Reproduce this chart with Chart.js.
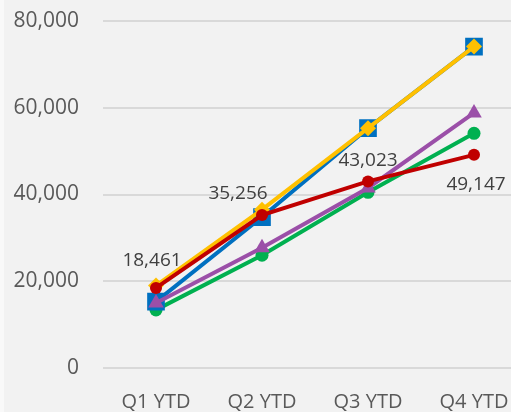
<!DOCTYPE html>
<html>
<head>
<meta charset="utf-8">
<script src="https://cdn.jsdelivr.net/npm/chart.js@4/dist/chart.umd.min.js"></script>
<style>
  html, body { margin: 0; padding: 0; overflow: hidden; background: #f2f2f2; }
  body { width: 511px; height: 412px; position: relative; }
  #edge { position: absolute; left: 0; top: 0; width: 4px; height: 412px; background: #f9f9f9; }
  #wrap { position: absolute; left: 0; top: 0; width: 530px; height: 412px; }
</style>
</head>
<body>
<div id="wrap"><canvas id="c"></canvas></div>
<div id="edge"></div>
<script>
const categories = ['Q1 YTD', 'Q2 YTD', 'Q3 YTD', 'Q4 YTD'];
const yTicks = [0, 20000, 40000, 60000, 80000];

const seriesBlue   = [15300, 34800, 55300, 74100];
const seriesYellow = [19000, 36500, 55300, 74100];
const seriesPurple = [15000, 27700, 41500, 58800];
const seriesGreen  = [13400, 26000, 40500, 54100];
const seriesRed    = [18461, 35256, 43023, 49147];

// label offsets (px) for the red series' value labels
const redLabelOffsets = [[-4, -27], [-24, -21], [0, -21], [2, 30]];

const fmt = v => v.toLocaleString('en-US');

const labelPlugin = {
  id: 'redLabels',
  afterDatasetsDraw(chart) {
    const ctx = chart.ctx;
    const idx = chart.data.datasets.findIndex(d => d.label === 'Red');
    const meta = chart.getDatasetMeta(idx);
    ctx.save();
    ctx.font = '19px "Open Sans"';
    ctx.fillStyle = '#404040';
    ctx.textAlign = 'center';
    ctx.textBaseline = 'middle';
    meta.data.forEach((pt, i) => {
      const [dx, dy] = redLabelOffsets[i];
      ctx.fillText(fmt(seriesRed[i]), pt.x + dx, pt.y + dy);
    });
    ctx.restore();
  }
};

const common = { borderWidth: 4, pointBorderWidth: 0, fill: false, tension: 0 };

new Chart(document.getElementById('c'), {
  type: 'line',
  data: {
    labels: categories,
    datasets: [
      Object.assign({ label: 'Green', data: seriesGreen, borderColor: '#00b050', backgroundColor: '#00b050',
        pointStyle: 'circle', pointRadius: 6.5, order: 4 }, common),
      Object.assign({ label: 'Blue', data: seriesBlue, borderColor: '#0070c0', backgroundColor: '#0070c0',
        pointStyle: 'rect', pointRadius: 12.5, order: 3 }, common),
      Object.assign({ label: 'Yellow', data: seriesYellow, borderColor: '#ffc000', backgroundColor: '#ffc000',
        pointStyle: 'rectRot', pointRadius: 8, order: 2 }, common),
      Object.assign({ label: 'Purple', data: seriesPurple, borderColor: '#9b4fa8', backgroundColor: '#9b4fa8',
        pointStyle: 'triangle', pointRadius: 9, order: 1 }, common),
      Object.assign({ label: 'Red', data: seriesRed, borderColor: '#c00000', backgroundColor: '#c00000',
        pointStyle: 'circle', pointRadius: 6, order: 0 }, common)
    ]
  },
  options: {
    responsive: true,
    maintainAspectRatio: false,
    animation: false,
    events: [],
    layout: { autoPadding: false, padding: { top: 21, right: 3, left: 0, bottom: 0 } },
    plugins: { legend: { display: false }, tooltip: { enabled: false } },
    scales: {
      x: {
        offset: true,
        grid: { display: false, drawTicks: false, offset: true },
        border: { display: false },
        ticks: { color: '#595959', font: { family: 'Open Sans', size: 20 }, padding: 22, maxRotation: 0 },
        afterFit(s) { s.height = 44; s.paddingLeft = 0; s.paddingRight = 0; }
      },
      y: {
        min: 0, max: 80000,
        grid: { color: '#d9d9d9', lineWidth: 2, drawTicks: false },
        border: { display: false },
        afterBuildTicks(s) { s.ticks = yTicks.map(v => ({ value: v })); },
        ticks: { color: '#595959', font: { family: 'Open Sans', size: 21 }, padding: 24,
          callback: v => fmt(v) },
        afterFit(s) { s.width = 103; s.paddingTop = 0; s.paddingBottom = 0; }
      }
    }
  },
  plugins: [labelPlugin]
});
</script>
</body>
</html>
